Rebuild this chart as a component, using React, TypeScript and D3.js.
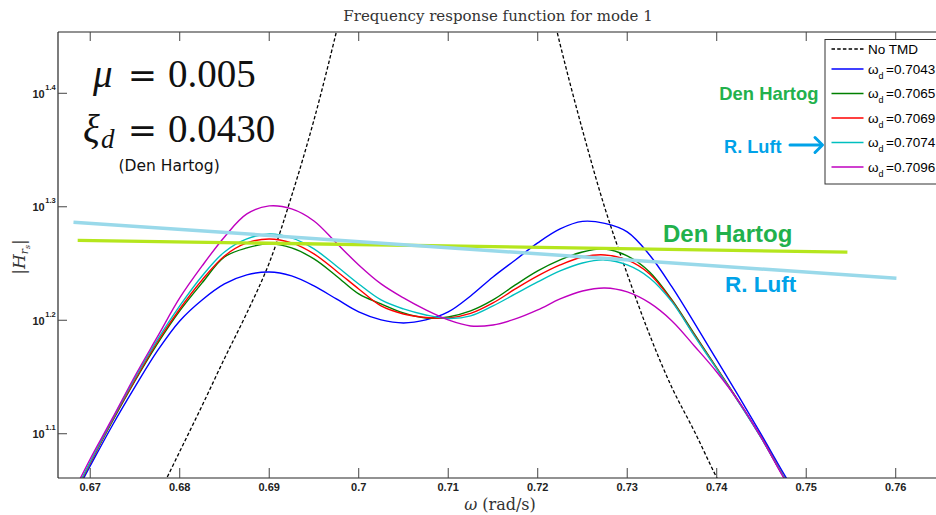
import React from "react";
import * as d3 from "d3";

// Frequency grid (rad/s) shared by the TMD response curves
const OMEGA = [
  0.6675, 0.6685, 0.67, 0.6725, 0.675, 0.6775, 0.68, 0.6825, 0.685, 0.6875,
  0.69, 0.6925, 0.695, 0.6975, 0.7, 0.7025, 0.705, 0.7075, 0.71, 0.7125,
  0.715, 0.7175, 0.72, 0.7225, 0.725, 0.7275, 0.73, 0.7325, 0.735, 0.7375,
  0.74, 0.7425, 0.745, 0.7475, 0.749,
];

// |H_rs| for each tuned damper frequency
const H_7043 = [
  10.851, 11.209, 11.792, 12.815, 13.843, 14.892, 15.827, 16.515, 17.061, 17.375,
  17.481, 17.34, 16.992, 16.549, 16.118, 15.859, 15.763, 15.859, 16.118, 16.65,
  17.305, 17.912, 18.541, 19.075, 19.368, 19.289, 18.959, 18.095, 16.957, 15.763,
  14.622, 13.565, 12.558, 11.603, 11.096,
];
const H_7065 = [
  10.895, 11.255, 11.864, 12.92, 14.012, 15.105, 16.151, 17.096, 18.021, 18.354,
  18.504, 18.354, 17.949, 17.34, 16.718, 16.382, 16.086, 15.923, 15.956, 16.151,
  16.515, 17.026, 17.517, 17.912, 18.205, 18.316, 18.058, 17.481, 16.515, 15.414,
  14.387, 13.427, 12.482, 11.532, 11.051,
];
const H_7069 = [
  10.895, 11.255, 11.864, 12.946, 14.041, 15.166, 16.216, 17.2, 18.058, 18.541,
  18.692, 18.541, 18.132, 17.517, 16.888, 16.316, 16.053, 15.94, 15.923, 16.069,
  16.415, 16.888, 17.34, 17.731, 18.021, 18.095, 17.912, 17.41, 16.482, 15.383,
  14.372, 13.413, 12.482, 11.532, 11.051,
];
const H_7074 = [
  10.917, 11.278, 11.889, 12.972, 14.098, 15.228, 16.316, 17.34, 18.205, 18.692,
  18.882, 18.73, 18.316, 17.695, 17.061, 16.515, 16.217, 16.02, 15.907, 15.988,
  16.316, 16.718, 17.13, 17.517, 17.803, 17.912, 17.731, 17.27, 16.449, 15.352,
  14.357, 13.4, 12.469, 11.532, 11.051,
];
const H_7096 = [
  11.006, 11.347, 11.961, 12.999, 14.155, 15.321, 16.582, 17.695, 18.768, 19.664,
  19.987, 19.865, 19.387, 18.541, 17.731, 17.061, 16.582, 16.184, 15.859, 15.667,
  15.699, 15.891, 16.184, 16.549, 16.82, 16.923, 16.786, 16.415, 15.827, 15.044,
  14.27, 13.427, 12.482, 11.509, 11.028,
];

// Structure without damper
const NO_TMD_OMEGA = [
  0.6775, 0.68, 0.6825, 0.685, 0.6875, 0.69, 0.6925, 0.695, 0.6975, 0.699,
  0.7025, 0.71, 0.7175, 0.72, 0.7225, 0.725, 0.7275, 0.73, 0.7325, 0.735,
  0.7375, 0.74, 0.7425,
];
const NO_TMD_H = [
  11.063, 12.143, 13.327, 14.667, 16.085, 17.803, 20.395, 23.794, 28.446, 31.935,
  40.0, 65.0, 40.0, 33.665, 27.745, 23.316, 19.906, 17.41, 15.389, 13.823,
  12.653, 11.516, 10.565,
];

const SERIES_LABELS = ["0.7043", "0.7065", "0.7069", "0.7074", "0.7096"];
const SERIES_COLORS = ["#0000ff", "#008000", "#ff0000", "#00bfbf", "#bf00bf"];
const SERIES_VALUES = [H_7043, H_7065, H_7069, H_7074, H_7096];

// Reference levels (start / end points)
const DEN_HARTOG_W = [0.6686, 0.7546];
const DEN_HARTOG_H = [18.64, 18.2];
const R_LUFT_W = [0.66813, 0.76008];
const R_LUFT_H = [19.34, 17.26];

const X_TICKS = [0.67, 0.68, 0.69, 0.7, 0.71, 0.72, 0.73, 0.74, 0.75, 0.76];
const X_TICK_LABELS = ["0.67", "0.68", "0.69", "0.7", "0.71", "0.72", "0.73", "0.74", "0.75", "0.76"];
const Y_TICK_EXPONENTS = [1.1, 1.2, 1.3, 1.4];
const Y_TICK_LABELS = ["1.1", "1.2", "1.3", "1.4"];

const W = 936;
const H = 515;
const PL = 58;
const PR = 936;
const PT = 32;
const PB = 478;

const SANS = "'Liberation Sans', Arial, sans-serif";
const SERIF = "'Liberation Serif', 'Times New Roman', serif";
const DSERIF = "'DejaVu Serif', serif";

export default function App() {
  const x = d3.scaleLinear().domain([0.6664, 0.7645]).range([PL, PR]);
  const y = d3
    .scaleLog()
    .domain([Math.pow(10, 1.061), Math.pow(10, 1.454)])
    .range([PB, PT]);

  const curve = d3
    .line<[number, number]>()
    .x((d) => x(d[0]))
    .y((d) => y(d[1]))
    .curve(d3.curveCatmullRom.alpha(0.5));
  const straight = d3
    .line<[number, number]>()
    .x((d) => x(d[0]))
    .y((d) => y(d[1]));

  const seriesPaths = SERIES_VALUES.map((vals) =>
    curve(OMEGA.map((w, i) => [w, vals[i]] as [number, number]))
  );
  const noTmdPath = curve(
    NO_TMD_OMEGA.map((w, i) => [w, NO_TMD_H[i]] as [number, number])
  );
  const denHartogPath = straight(
    DEN_HARTOG_W.map((w, i) => [w, DEN_HARTOG_H[i]] as [number, number])
  );
  const rLuftPath = straight(
    R_LUFT_W.map((w, i) => [w, R_LUFT_H[i]] as [number, number])
  );

  const legendRows = [49, ...SERIES_LABELS.map((_, i) => 69 + i * 24.5)];

  return (
    <svg
      width={W}
      height={H}
      viewBox={`0 0 ${W} ${H}`}
      style={{ position: "absolute", left: 0, top: 0, display: "block", background: "#fff" }}
    >
      <defs>
        <clipPath id="plot-area">
          <rect x={PL} y={PT} width={PR - PL} height={PB - PT} />
        </clipPath>
      </defs>
      <rect x={0} y={0} width={W} height={H} fill="#fff" />

      {/* Title */}
      <text
        x={498}
        y={21}
        textAnchor="middle"
        fontFamily={DSERIF}
        fontSize={15}
        fill="#333"
      >
        Frequency response function for mode 1
      </text>

      {/* Curves */}
      <g clipPath="url(#plot-area)">
        <path
          d={noTmdPath || ""}
          fill="none"
          stroke="#000"
          strokeWidth={1.3}
          strokeDasharray="3.5,2.2"
        />
        {seriesPaths.map((p, i) => (
          <path key={i} d={p || ""} fill="none" stroke={SERIES_COLORS[i]} strokeWidth={1.4} />
        ))}
        <path d={denHartogPath || ""} fill="none" stroke="#b5e61d" strokeWidth={3.3} />
        <path d={rLuftPath || ""} fill="none" stroke="#99d9ea" strokeWidth={3.5} />
      </g>

      {/* Axes frame */}
      <g stroke="#262626" strokeWidth={1.2} fill="none">
        <line x1={PL} y1={PT} x2={PL} y2={PB} />
        <line x1={PL} y1={PB} x2={PR} y2={PB} />
        <line x1={PL} y1={PT} x2={PR} y2={PT} />
      </g>

      {/* X ticks */}
      {X_TICKS.map((t, i) => (
        <g key={i}>
          <line x1={x(t)} x2={x(t)} y1={PB} y2={PB - 10} stroke="#444" strokeWidth={1} />
          <line x1={x(t)} x2={x(t)} y1={PT} y2={PT + 9} stroke="#444" strokeWidth={1} />
          <text
            x={x(t)}
            y={491}
            textAnchor="middle"
            fontFamily={SANS}
            fontSize={11}
            fontWeight="bold"
            fill="#222"
          >
            {X_TICK_LABELS[i]}
          </text>
        </g>
      ))}

      {/* Y ticks */}
      {Y_TICK_EXPONENTS.map((e, i) => {
        const yy = y(Math.pow(10, e));
        return (
          <g key={i}>
            <line x1={PL} x2={PL + 9} y1={yy} y2={yy} stroke="#444" strokeWidth={1} />
            <text
              x={32.5}
              y={yy + 4.6}
              fontFamily={SANS}
              fontSize={11}
              fontWeight="bold"
              fill="#222"
            >
              10
              <tspan fontSize={7.5} dy={-8} dx={0.5}>
                {Y_TICK_LABELS[i]}
              </tspan>
            </text>
          </g>
        );
      })}

      {/* Axis labels */}
      <text x={500} y={510} textAnchor="middle" fontFamily={DSERIF} fontSize={16} fill="#333">
        <tspan fontStyle="italic">ω</tspan>
        <tspan> (rad/s)</tspan>
      </text>
      <text
        transform="translate(25,257) rotate(-90)"
        textAnchor="middle"
        fontFamily={DSERIF}
        fontSize={17}
        fill="#333"
      >
        <tspan>|</tspan>
        <tspan fontStyle="italic">H</tspan>
        <tspan fontStyle="italic" fontSize={11} dy={3}>r</tspan>
        <tspan fontStyle="italic" fontSize={8} dy={2}>s</tspan>
        <tspan dy={-5}>|</tspan>
      </text>

      {/* Parameter annotations */}
      <text y={86.7} fontFamily={SERIF} fontSize={39} fill="#111">
        <tspan x={93} fontStyle="italic">μ</tspan>
        <tspan x={142.5} textAnchor="middle" fontFamily={DSERIF} fontSize={35}>=</tspan>
        <tspan x={168}>0.005</tspan>
      </text>
      <text y={141.7} fontFamily={SERIF} fontSize={39} fill="#111">
        <tspan x={83} fontStyle="italic">ξ</tspan>
        <tspan x={101} dy={6} fontSize={27} fontStyle="italic">d</tspan>
        <tspan x={142.5} dy={-6} textAnchor="middle" fontFamily={DSERIF} fontSize={35}>=</tspan>
        <tspan x={168}>0.0430</tspan>
      </text>
      <text x={118.5} y={171} fontFamily="'DejaVu Sans', sans-serif" fontSize={15.5} fill="#111">
        (Den Hartog)
      </text>

      {/* Method labels */}
      <text x={663} y={241.7} fontFamily={SANS} fontWeight="bold" fontSize={24} fill="#22b14c">
        Den Hartog
      </text>
      <text x={725} y={292} fontFamily={SANS} fontWeight="bold" fontSize={22.5} fill="#00a2e8">
        R. Luft
      </text>
      <text x={719.3} y={99.5} fontFamily={SANS} fontWeight="bold" fontSize={18.4} fill="#22b14c">
        Den Hartog
      </text>
      <text x={724} y={153.3} fontFamily={SANS} fontWeight="bold" fontSize={18.2} fill="#00a2e8">
        R. Luft
      </text>
      <g stroke="#00a2e8" strokeWidth={3} fill="none" strokeLinecap="round" strokeLinejoin="round">
        <line x1={790} y1={145} x2={821} y2={145} />
        <polyline points="815,137.5 822.5,145 815,152.5" />
      </g>

      {/* Legend */}
      <rect x={825} y={39.5} width={120} height={144.5} fill="#fff" stroke="#333" strokeWidth={1} />
      {legendRows.map((ry, i) => (
        <g key={i}>
          <line
            x1={831.5}
            x2={863.5}
            y1={ry}
            y2={ry}
            stroke={i === 0 ? "#000" : SERIES_COLORS[i - 1]}
            strokeWidth={1.4}
            strokeDasharray={i === 0 ? "3.5,2.2" : undefined}
          />
          {i === 0 ? (
            <text x={868} y={ry + 4.6} fontFamily={SANS} fontSize={13.5} fill="#000">
              No TMD
            </text>
          ) : (
            <text x={868} y={ry + 4.6} fontFamily={SANS} fontSize={13.5} fill="#000">
              ω
              <tspan fontSize={9} dy={5}>d</tspan>
              <tspan dy={-5} dx={2.5}>={SERIES_LABELS[i - 1]}</tspan>
            </text>
          )}
        </g>
      ))}
    </svg>
  );
}
